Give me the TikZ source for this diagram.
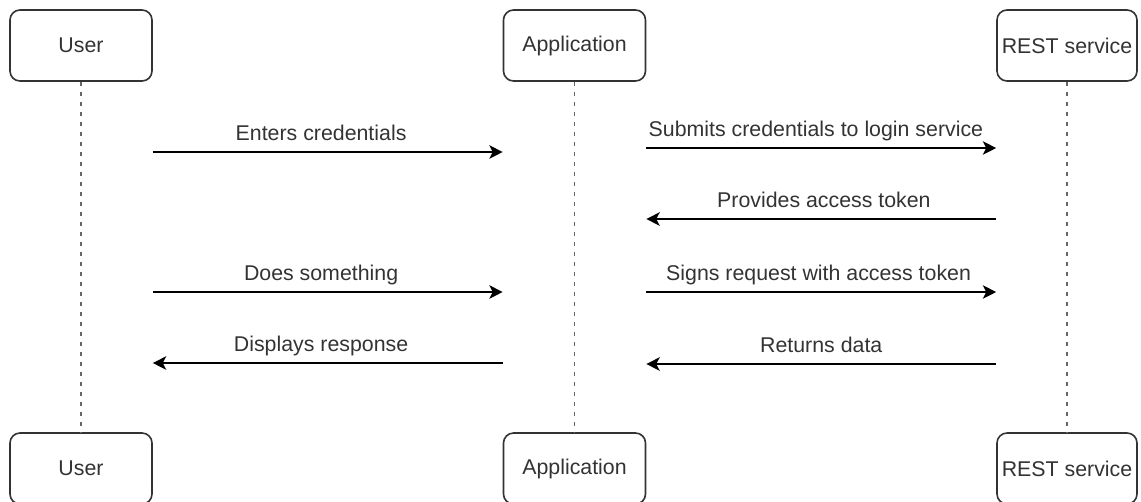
\documentclass[tikz,border=0pt]{standalone}
\usepackage{fontspec}
\setmainfont{Liberation Sans}
\usetikzlibrary{arrows.meta}
\definecolor{ink}{HTML}{333333}
\begin{document}
\begin{tikzpicture}[x=0.75pt, y=-0.75pt,
  actor/.style={draw=ink, line width=1.2pt, rounded corners=7.5pt, fill=white,
    minimum width=106.5pt, minimum height=53.25pt, inner sep=0pt,
    text=ink, font=\fontsize{16}{19}\selectfont},
  life/.style={draw=black!60, line width=1.4pt, dash pattern=on 3pt off 4.5pt},
  msg/.style={draw=black, line width=1.4pt, -{Stealth[length=10pt, width=10pt, inset=2.5pt]}},
  lbl/.style={midway, anchor=base, yshift=9pt, inner sep=0pt, text=ink,
    font=\fontsize{16}{19}\selectfont}]
\useasboundingbox (0,0) rectangle (1141,501);

% participants, top row
\node[actor] (user) at (81,45.5) {User};
\node[actor] (app)  at (574.5,45.5) {Application};
\node[actor, minimum width=105pt] (rest) at (1067,45.5) {REST service};

% participants, bottom row
\node[actor] (userB) at (81,468.5) {User};
\node[actor] (appB)  at (574.5,468.5) {Application};
\node[actor, minimum width=105pt] (restB) at (1067,468.5) {REST service};

% lifelines
\draw[life] (user.south) -- (userB.north);
\draw[life] (app.south) -- (appB.north);
\draw[life] (rest.south) -- (restB.north);

% messages
\draw[msg] (user.east |- 0,152) -- (app.west |- 0,152)
  node[lbl, xshift=-5pt] {Enters credentials};
\draw[msg] (app.east |- 0,148) -- (rest.west |- 0,148)
  node[lbl, xshift=-4pt] {Submits credentials to login service};
\draw[msg] (rest.west |- 0,219) -- (app.east |- 0,219)
  node[lbl, xshift=2pt] {Provides access token};
\draw[msg] (user.east |- 0,292) -- (app.west |- 0,292)
  node[lbl, xshift=-5pt] {Does something};
\draw[msg] (app.east |- 0,292) -- (rest.west |- 0,292)
  node[lbl, xshift=-2pt] {Signs request with access token};
\draw[msg] (app.west |- 0,363) -- (user.east |- 0,363)
  node[lbl, xshift=-5pt] {Displays response};
\draw[msg] (rest.west |- 0,364) -- (app.east |- 0,364)
  node[lbl] {Returns data};
\end{tikzpicture}
\end{document}
